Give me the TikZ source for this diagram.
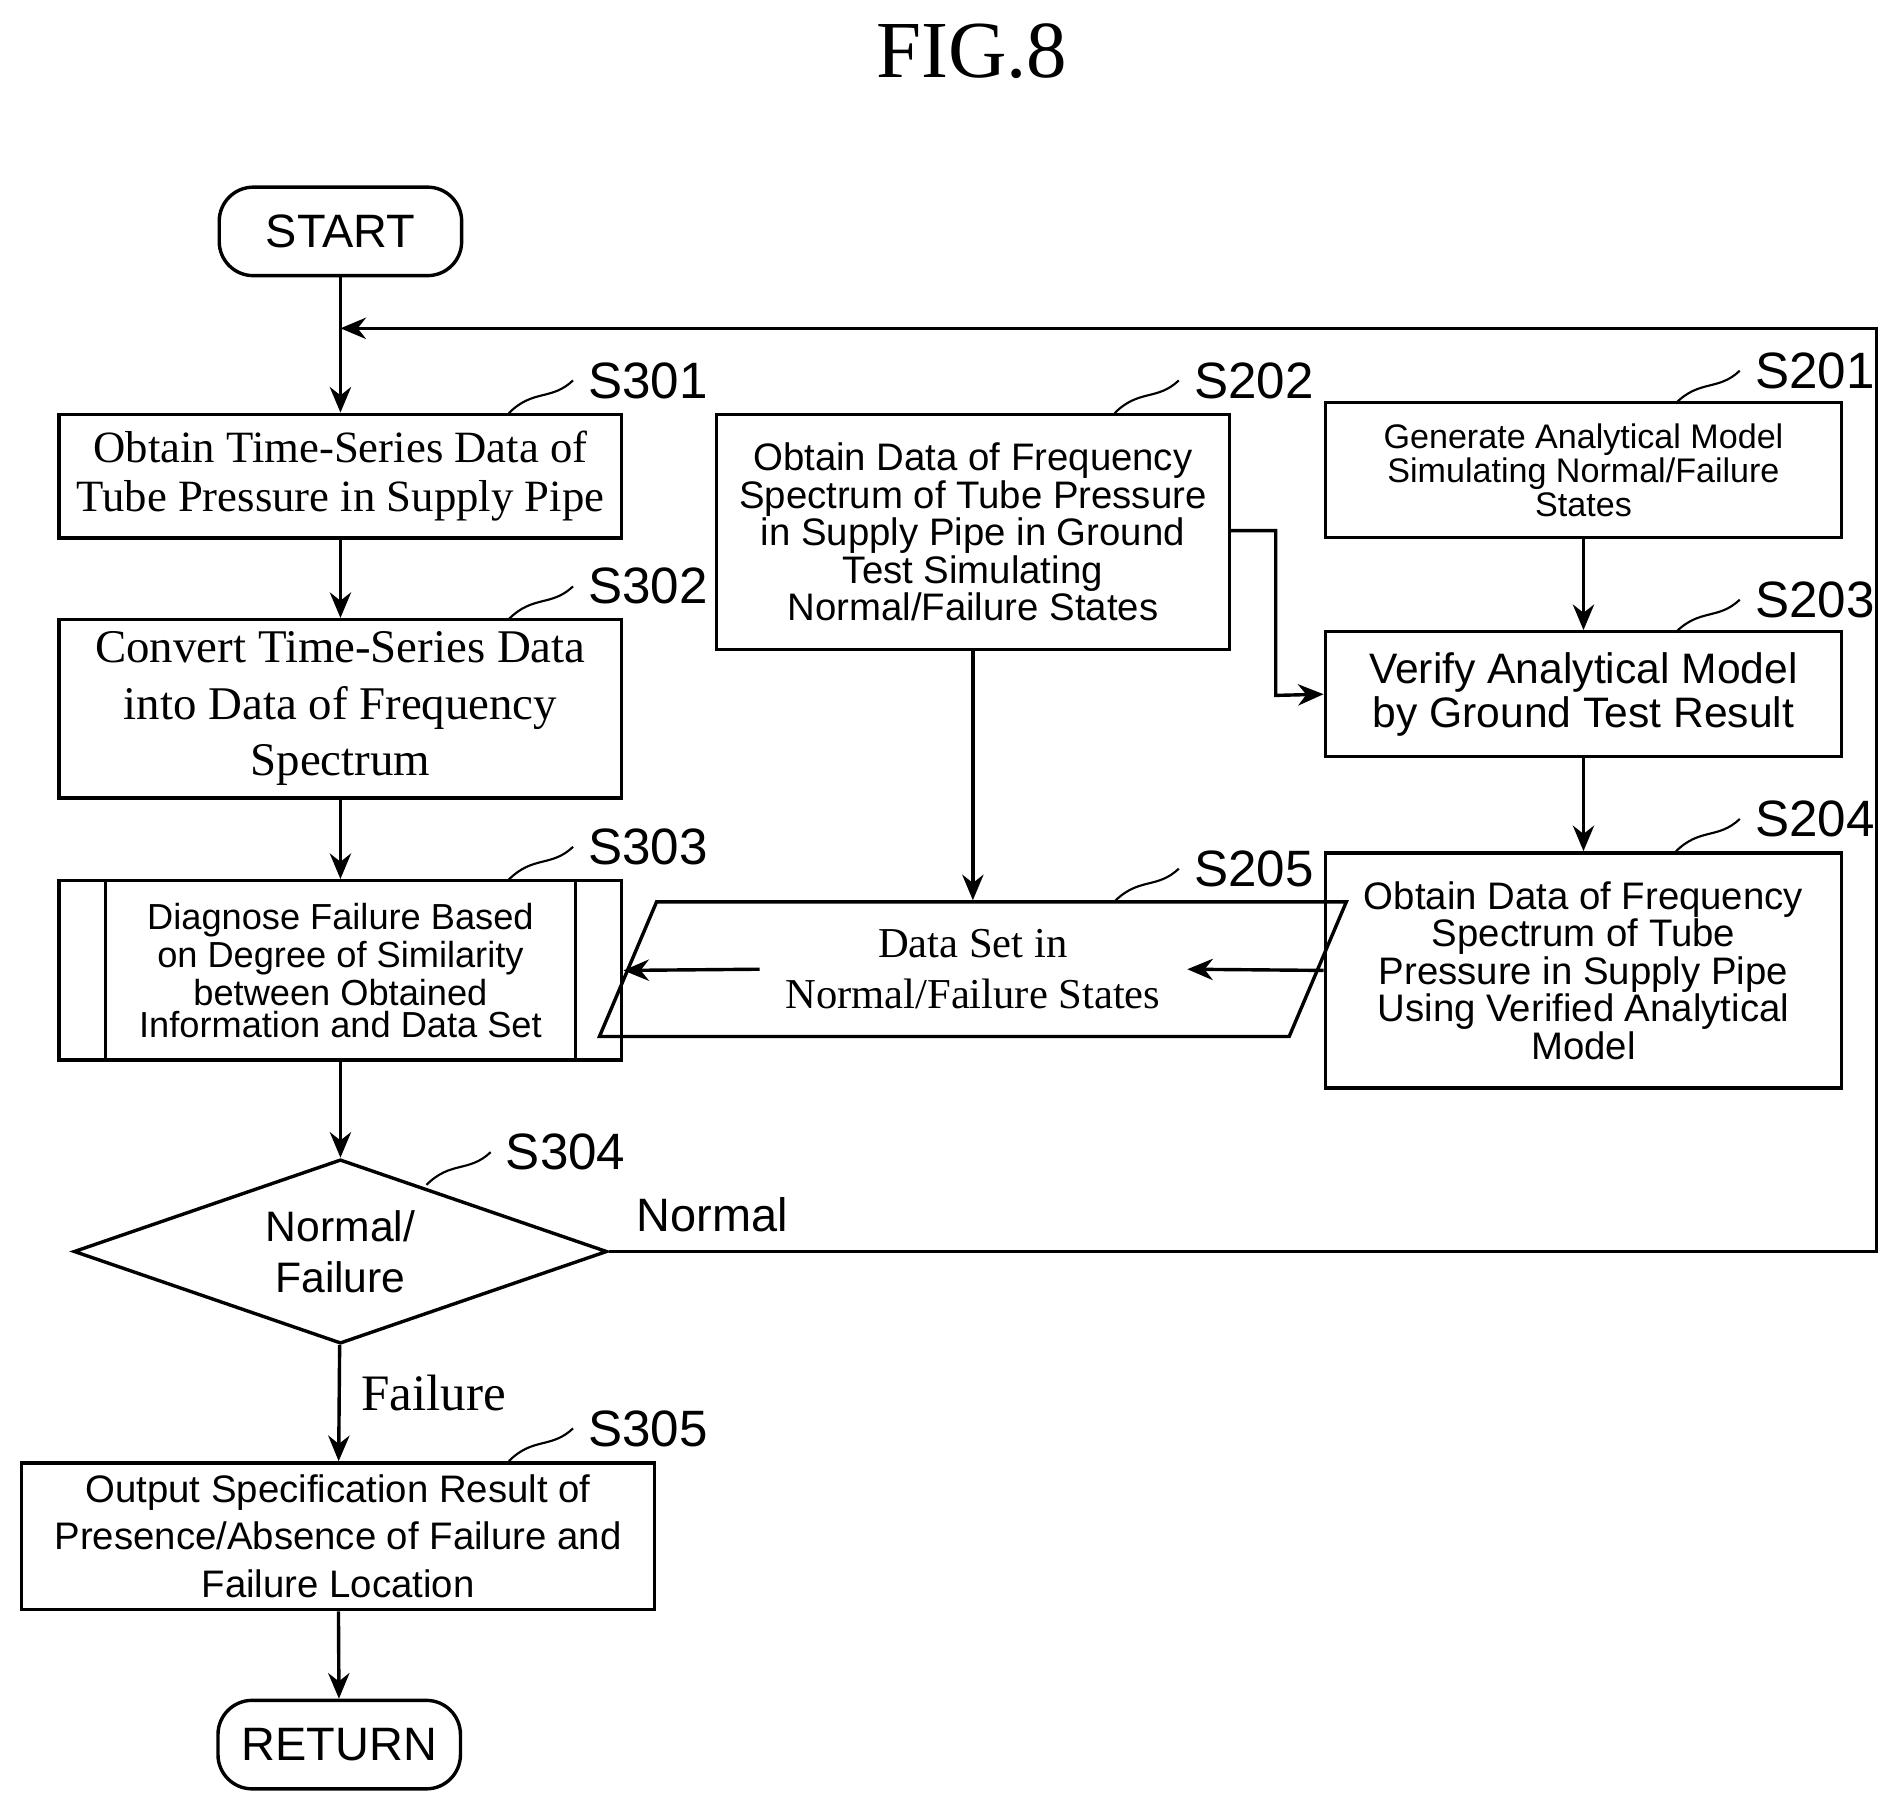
\documentclass[tikz,border=0pt]{standalone}
\usepackage{fontspec}
\setmainfont{Liberation Serif}
\setsansfont{Liberation Sans}
\usetikzlibrary{shapes.geometric,arrows.meta}
\begin{document}
\begin{tikzpicture}[x=0.01cm,y=-0.01cm,
  box/.style={draw,line width=0.8pt,inner sep=0pt,align=center},
  arr/.style={-{Stealth[length=6pt,width=5pt]},line width=0.8pt},
  sf/.style={font=\sffamily\fontsize{9}{8.8}\selectfont},
  rm/.style={font=\fontsize{10.5}{11.5}\selectfont},
  lab/.style={font=\sffamily\fontsize{12}{12}\selectfont,anchor=west},
  lead/.style={line width=0.5pt}]
\useasboundingbox (0,0) rectangle (1560,1486);
\node[font=\fontsize{19}{20}\selectfont] (fig) at (802,42) {FIG.8};
\node[box,rounded corners=8pt,minimum width=2cm,minimum height=0.73cm,sf,font=\sffamily\fontsize{11}{12}\selectfont] (start) at (281,191) {START};
\node[box,minimum width=4.64cm,minimum height=1.02cm,rm] (s301) at (281,393) {Obtain Time-Series Data of\\Tube Pressure in Supply Pipe};
\node[box,minimum width=4.64cm,minimum height=1.47cm,rm,font=\fontsize{11}{13.3}\selectfont] (s302) at (281,585) {Convert Time-Series Data\\into Data of Frequency\\Spectrum};
\node[box,minimum width=4.64cm,minimum height=1.48cm,sf,font=\sffamily\fontsize{8.5}{7.4}\selectfont] (s303) at (281,801) {Diagnose Failure Based\\on Degree of Similarity\\between Obtained\\Information and Data Set};
\draw[line width=0.8pt] (87,727) -- (87,875) (475,727) -- (475,875);
\node[draw,line width=0.8pt,diamond,aspect=2.9,minimum width=4.4cm,minimum height=1.52cm,inner sep=0pt,align=center,font=\sffamily\fontsize{10}{12}\selectfont] (s304) at (281,1033) {Normal/\\Failure};
\node[box,minimum width=5.22cm,minimum height=1.21cm,sf,font=\sffamily\fontsize{9}{11.2}\selectfont] (s305) at (279,1268) {Output Specification Result of\\Presence/Absence of Failure and\\Failure Location};
\node[box,rounded corners=8pt,minimum width=2cm,minimum height=0.73cm,font=\sffamily\fontsize{11}{12}\selectfont] (ret) at (280,1440) {RETURN};
\node[box,minimum width=4.23cm,minimum height=1.94cm,sf] (s202) at (803,439) {Obtain Data of Frequency\\Spectrum of Tube Pressure\\in Supply Pipe in Ground\\Test Simulating\\Normal/Failure States};
\node[box,minimum width=4.26cm,minimum height=1.11cm,font=\sffamily\fontsize{8}{8}\selectfont] (s201) at (1307,388) {Generate Analytical Model\\Simulating Normal/Failure\\States};
\node[box,minimum width=4.26cm,minimum height=1.03cm,font=\sffamily\fontsize{10}{9.2}\selectfont] (s203) at (1307,573) {Verify Analytical Model\\by Ground Test Result};
\node[box,minimum width=4.26cm,minimum height=1.94cm,sf] (s204) at (1307,801) {Obtain Data of Frequency\\Spectrum of Tube\\Pressure in Supply Pipe\\Using Verified Analytical\\Model};
\node[draw,line width=0.8pt,trapezium,trapezium left angle=67,trapezium right angle=113,minimum width=3.98cm,minimum height=1.11cm,inner sep=0pt,align=center,rm,font=\fontsize{10}{12}\selectfont] (s205) at (803,800) {Data Set in\\Normal/Failure States};
% step labels
\foreach \t/\x/\y in {S301/420/341,S302/420/511,S303/420/726,S304/352/978,S305/420/1206,S202/920/341,S201/1383/333,S203/1383/522,S204/1383/703,S205/920/744}{
  \draw[lead] (\x,\y) .. controls (\x+20,\y-20) and (\x+35,\y-10) .. (\x+53,\y-27) node[lab] {\t};}
% arrows
\draw[arr] (start) -- (s301);
\draw[arr] (s301) -- (s302);
\draw[arr] (s302) -- (s303);
\draw[arr] (s303) -- (s304);
\draw[arr] (s304) -- (s305);
\draw[arr] (s305) -- (ret);
\coordinate (c1) at (1549,1033);
\coordinate (c2) at (1549,271);
\coordinate (c3) at (281,271);
\draw[arr] (s304.east) -- (c1) -- (c2) -- (c3);
\coordinate (d1) at (1053,438);
\coordinate (d2) at (1053,574);
\draw[arr] (s202.east |- d1) -- (d1) -- (d2) -- (s203.west);
\draw[arr] (s201) -- (s203);
\draw[arr] (s203) -- (s204);
\draw[arr] (s202) -- (s205.north -| s202);
\draw[arr] (s204.west) -- (980,800);
\draw[arr] (627,800) -- (s303.east);
\node[font=\sffamily\fontsize{11}{12}\selectfont] (nl) at (588,1003) {Normal};
\node[font=\fontsize{12}{12}\selectfont] (fl) at (358,1150) {Failure};
\end{tikzpicture}
\end{document}
